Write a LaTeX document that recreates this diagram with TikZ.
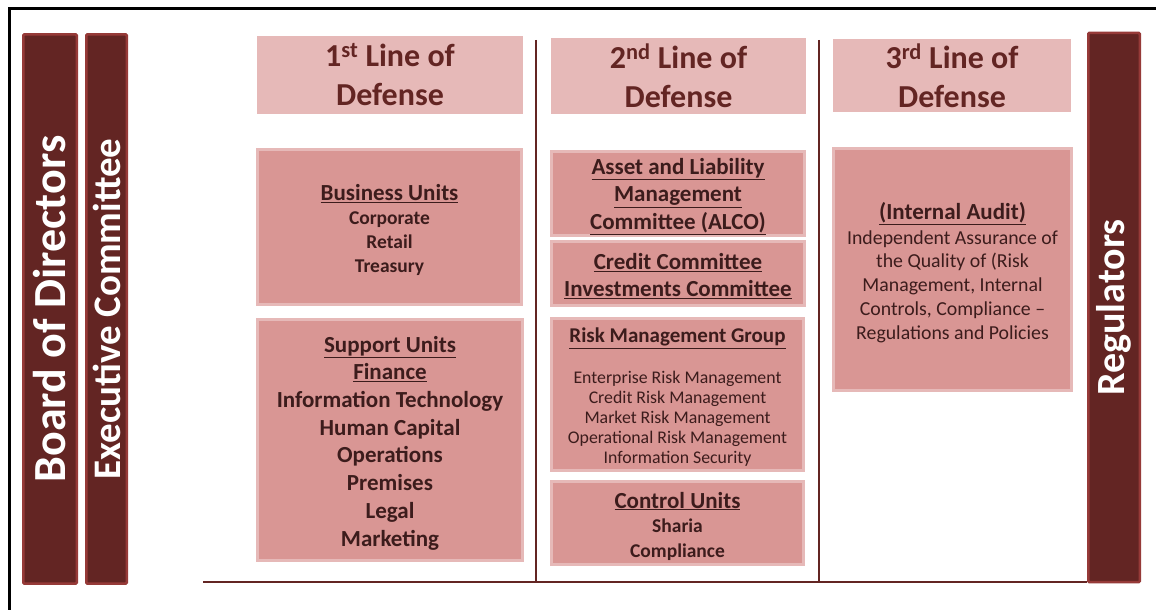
\documentclass[tikz,border=0pt]{standalone}
\usepackage{fontspec}
\setmainfont{Carlito}
\definecolor{barred}{HTML}{632523}
\definecolor{baredge}{HTML}{963A38}
\definecolor{headpink}{HTML}{E6B9B8}
\definecolor{boxpink}{HTML}{D99694}
\definecolor{inktext}{HTML}{3C1C1C}
\tikzset{
  sidebar/.style={draw=baredge, fill=barred, line width=2.5pt, rounded corners=1pt,
    minimum width=#1, minimum height=549pt, inner sep=0pt},
  sidetext/.style={rotate=90, text=white, font=\bfseries\fontsize{#1}{#1}\selectfont},
  linehead/.style={fill=headpink, inner sep=0pt, align=center, text=barred,
    font=\bfseries\fontsize{32}{39}\selectfont},
  unitbox/.style={draw=headpink, fill=boxpink, line width=3pt, inner sep=0pt},
  unittext/.style={align=center, text=inktext, inner sep=0pt, yshift=-3pt},
  divider/.style={draw=barred, line width=1.5pt}
}
\begin{document}
\begin{tikzpicture}[x=1pt,y=-1pt]
  \useasboundingbox (0,0) rectangle (1156,610);
  \draw[line width=3pt] (9,610) -- (9,9) -- (1156,9);

  \node[sidebar=53.5pt] (board) at (50,309) {};
  \node[sidetext=46] at (board.center) {Board of Directors};
  \node[sidebar=40.5pt] (exec) at (106.5,309) {};
  \node[sidetext=39] at (exec.center) {Executive Committee};
  \node[sidebar=51.5pt] (reg) at (1114,307.5) {};
  \node[sidetext=40] at (reg.center) {Regulators};

  \coordinate (d1top) at (536,40);
  \coordinate (d1bot) at (536,582);
  \coordinate (d2top) at (819,40);
  \coordinate (d2bot) at (819,582);
  \coordinate (base) at (203,582);
  \draw[divider] (d1top) -- (d1bot);
  \draw[divider] (d2top) -- (d2bot);
  \draw[divider] (base) -- (reg.west |- base);

  \node[linehead, minimum width=266pt, minimum height=78pt] (first) at (390,75)
    {1\textsuperscript{st} Line of\\Defense};
  \node[linehead, minimum width=255pt, minimum height=76pt] (second) at (678.5,76)
    {2\textsuperscript{nd} Line of\\Defense};
  \node[linehead, minimum width=238pt, minimum height=73pt] (third) at (952,75.5)
    {3\textsuperscript{rd} Line of\\Defense};

  \node[unitbox, minimum width=264pt, minimum height=155pt] (business) at (389.5,227) {};
  \node[unittext, font=\bfseries\fontsize{19.5}{24}\selectfont] at (business.center)
    {{\fontsize{23}{24}\selectfont\underline{Business Units}}\\Corporate\\Retail\\Treasury};
  \node[unitbox, minimum width=265pt, minimum height=241pt] (support) at (390,440) {};
  \node[unittext, font=\bfseries\fontsize{23}{27.7}\selectfont] at (support.center)
    {\underline{Support Units}\\\underline{Finance}\\Information Technology\\Human Capital\\
     Operations\\Premises\\Legal\\Marketing};

  \node[unitbox, minimum width=253pt, minimum height=84pt] (alco) at (678,193.5) {};
  \node[unittext, font=\bfseries\fontsize{23}{27.5}\selectfont] at (alco.center)
    {\underline{Asset and Liability}\\\underline{Management}\\\underline{Committee (ALCO)}};
  \node[unitbox, minimum width=253pt, minimum height=64pt] (credit) at (678,273.5) {};
  \node[unittext, font=\bfseries\fontsize{23}{27}\selectfont] at (credit.center)
    {\underline{Credit Committee}\\\underline{Investments Committee}};
  \node[unitbox, minimum width=252pt, minimum height=152pt] (risk) at (677.5,394.5) {};
  \node[unittext, font=\fontsize{17.8}{20}\selectfont] at (risk.center)
    {{\bfseries\fontsize{21}{20}\selectfont\underline{Risk Management Group}}\\[21pt]
     Enterprise Risk Management\\Credit Risk Management\\Market Risk Management\\
     Operational Risk Management\\Information Security};
  \node[unitbox, minimum width=252pt, minimum height=83pt] (control) at (677.5,523) {};
  \node[unittext, font=\bfseries\fontsize{19.5}{24.5}\selectfont] at (control.center)
    {{\fontsize{23}{24.5}\selectfont\underline{Control Units}}\\Sharia\\Compliance};

  \node[unitbox, minimum width=238pt, minimum height=242pt] (audit) at (952.5,269.5) {};
  \node[unittext, font=\fontsize{19.8}{23.7}\selectfont] at (audit.center)
    {{\bfseries\fontsize{23}{23.7}\selectfont\underline{(Internal Audit)}}\\[1pt]
     Independent Assurance of\\the Quality of (Risk\\Management, Internal\\
     Controls, Compliance --\\Regulations and Policies};
\end{tikzpicture}
\end{document}
